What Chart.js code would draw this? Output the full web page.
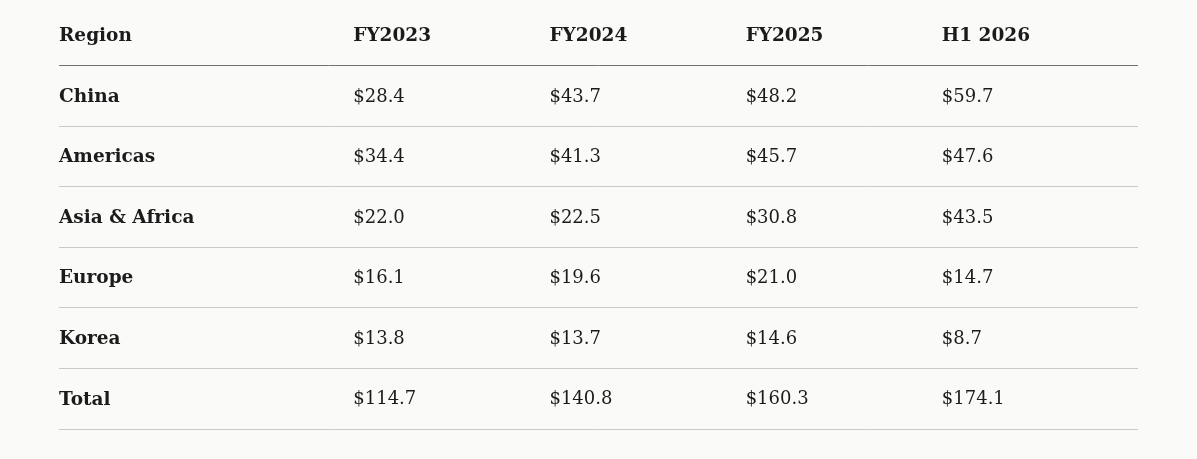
<!DOCTYPE html>
<html>
<head>
<meta charset="utf-8">
<script src="https://cdn.jsdelivr.net/npm/chart.js@4.4.1/dist/chart.umd.min.js"></script>
<style>
    html, body { margin: 0; padding: 0; background: #fafaf9; }
    #wrap { width: 1197px; height: 459px; position: relative; }
</style>
</head>
<body>
<div id="wrap"><canvas id="regionTable"></canvas></div>
<script>
// table data, revenue by region ($B)
const headerLabel = 'Region';
const regions = ['China', 'Americas', 'Asia & Africa', 'Europe', 'Korea', 'Total'];
const periods = ['FY2023', 'FY2024', 'FY2025', 'H1 2026'];
const fy2023 = [28.4, 34.4, 22.0, 16.1, 13.8, 114.7];
const fy2024 = [43.7, 41.3, 22.5, 19.6, 13.7, 140.8];
const fy2025 = [48.2, 45.7, 30.8, 21.0, 14.6, 160.3];
const h12026 = [59.7, 47.6, 43.5, 14.7, 8.7, 174.1];
const periodValues = [fy2023, fy2024, fy2025, h12026];

// first column is wider than the rest
function colSlot(i) {
    return i === 0 ? 0 : i + 0.5;
}

const rowLabels = [headerLabel, ...regions];

const datasets = [];
// label column (header + region names)
datasets.push({
    label: headerLabel,
    data: rowLabels.map((r) => ({ x: colSlot(0), y: r, text: r, bold: true }))
});
periods.forEach((p, i) => {
    const pts = [{ x: colSlot(i + 1), y: headerLabel, text: p, bold: true }];
    regions.forEach((r, j) => {
        pts.push({ x: colSlot(i + 1), y: r, text: '$' + periodValues[i][j].toFixed(1), bold: false });
    });
    datasets.push({ label: p, data: pts });
});

const cellText = {
    id: 'cellText',
    afterDatasetsDraw(chart) {
        const ctx = chart.ctx;
        ctx.save();
        ctx.fillStyle = '#1b1b1b';
        ctx.textAlign = 'left';
        ctx.textBaseline = 'middle';
        chart.data.datasets.forEach((ds, i) => {
            const meta = chart.getDatasetMeta(i);
            meta.data.forEach((el, j) => {
                const cell = ds.data[j];
                ctx.font = cell.bold ? 'bold 18.5px "DejaVu Serif"' : '18px "DejaVu Serif"';
                ctx.fillText(cell.text, el.x, el.y + 1);
            });
        });
        ctx.restore();
    }
};

new Chart(document.getElementById('regionTable'), {
    type: 'scatter',
    data: { datasets: datasets },
    options: {
        responsive: true,
        maintainAspectRatio: false,
        animation: false,
        events: [],
        layout: { padding: { left: 59, right: 59, top: 5, bottom: 30 } },
        elements: { point: { radius: 0, hoverRadius: 0 } },
        plugins: { legend: { display: false }, tooltip: { enabled: false } },
        scales: {
            x: { type: 'linear', min: 0, max: 5.5, display: false },
            y: {
                type: 'category',
                labels: rowLabels,
                offset: true,
                border: { display: false },
                ticks: { display: false },
                grid: {
                    offset: true,
                    drawTicks: false,
                    lineWidth: 1,
                    color: (c) => c.index === 0 ? 'rgba(0,0,0,0)' : (c.index === 1 ? '#727272' : '#c9c9c9')
                }
            }
        }
    },
    plugins: [cellText]
});
</script>
</body>
</html>
